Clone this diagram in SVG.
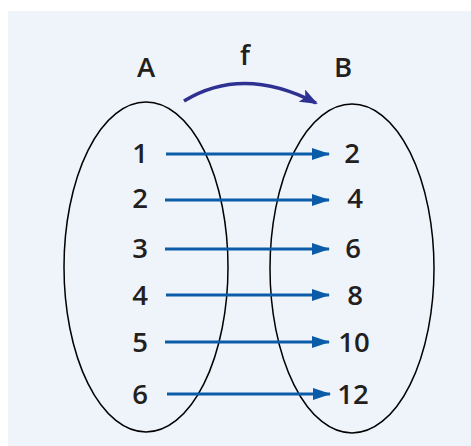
<svg xmlns="http://www.w3.org/2000/svg" width="471" height="446" viewBox="0 0 471 446">
  <defs>
    <style>
      .lbl { font-family: "Open Sans", "Liberation Sans", sans-serif; font-weight: 600; font-size: 27.5px; fill: #231f20; text-anchor: middle; }
      .set { fill: none; stroke: #000; stroke-width: 1.5; }
      .map { stroke: #0b5ca8; stroke-width: 3; fill: none; }
      .fn { stroke: #2e3192; stroke-width: 3.5; fill: none; }
    </style>
    <marker id="ah" markerUnits="userSpaceOnUse" markerWidth="18" markerHeight="12" viewBox="0 0 18 12" refX="17" refY="6" orient="auto">
      <path d="M0,0 L18,6 L0,12 z" fill="#0b5ca8"/>
    </marker>
    <marker id="fh" markerUnits="userSpaceOnUse" markerWidth="18" markerHeight="14" viewBox="0 0 18 14" refX="16" refY="7" orient="auto">
      <path d="M0,0 L18,7 L0,14 L4,7 z" fill="#2e3192"/>
    </marker>
  </defs>
  <rect x="8" y="11" width="463" height="435" fill="#eff3fa"/>

  <g id="setA">
    <ellipse class="set" cx="146" cy="267" rx="82" ry="165"/>
    <text class="lbl" x="146" y="77">A</text>
    <text class="lbl" x="140" y="163">1</text>
    <text class="lbl" x="140" y="208">2</text>
    <text class="lbl" x="140" y="258">3</text>
    <text class="lbl" x="140" y="305">4</text>
    <text class="lbl" x="140" y="352">5</text>
    <text class="lbl" x="140" y="404">6</text>
  </g>
  <g id="setB">
    <ellipse class="set" cx="352" cy="268.5" rx="82" ry="164.5"/>
    <text class="lbl" x="343" y="77">B</text>
    <text class="lbl" x="352" y="163">2</text>
    <text class="lbl" x="355" y="208">4</text>
    <text class="lbl" x="353" y="258">6</text>
    <text class="lbl" x="355" y="305">8</text>
    <text class="lbl" x="354" y="352">10</text>
    <text class="lbl" x="353" y="404">12</text>
  </g>
  <g id="fLabel">
    <text class="lbl" x="245" y="65">f</text>
  </g>

  <g id="connectors">
    <path class="fn" d="M184,101 Q243,65 316,103" marker-end="url(#fh)"/>
    <line class="map" x1="166" y1="154" x2="329" y2="154" marker-end="url(#ah)"/>
    <line class="map" x1="165" y1="200" x2="329" y2="200" marker-end="url(#ah)"/>
    <line class="map" x1="165" y1="249" x2="329" y2="249" marker-end="url(#ah)"/>
    <line class="map" x1="166" y1="295" x2="329" y2="295" marker-end="url(#ah)"/>
    <line class="map" x1="165" y1="342" x2="329" y2="342" marker-end="url(#ah)"/>
    <line class="map" x1="167" y1="394" x2="330" y2="394" marker-end="url(#ah)"/>
  </g>
</svg>
